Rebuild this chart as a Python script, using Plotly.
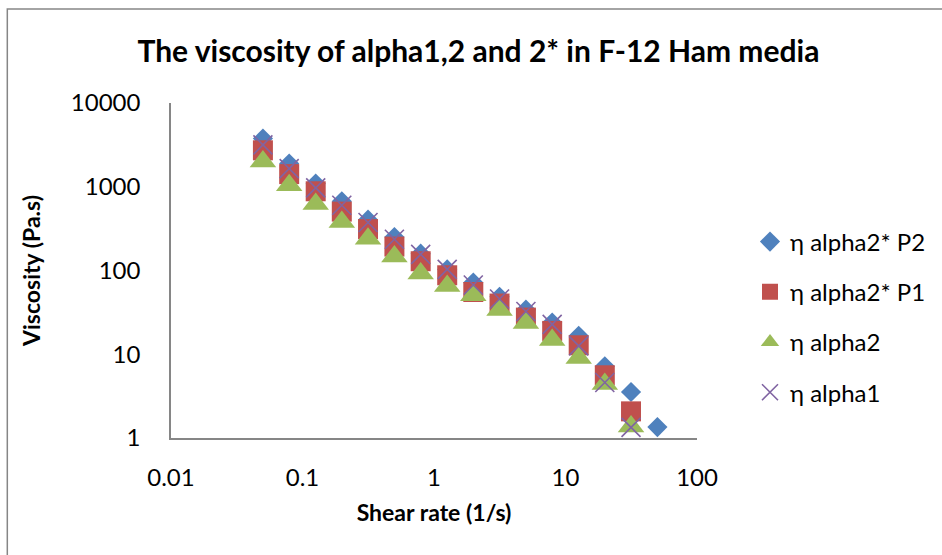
import plotly.graph_objects as go

# ---- data ----
shear_rate = [0.05, 0.0792, 0.126, 0.199, 0.315, 0.5, 0.792, 1.26, 1.99, 3.15,
              5.0, 7.92, 12.6, 19.9, 31.5, 50.0]

visc_alpha2star_p2 = [3758, 1890, 1091, 670, 405, 251, 159, 103, 71.7, 48.5,
                      34.1, 23.9, 16.6, 7.18, 3.54, 1.35]
visc_alpha2star_p1 = [2723, 1416, 883, 505, 312, 193, 129, 87.7, 55.4, 40.3,
                      27.4, 19.0, 12.8, 5.61, 2.08]
visc_alpha2 = [1996, 1041, 622, 380, 240, 147, 91.8, 65.3, 50.6, 33.7,
               23.6, 14.8, 9.02, 4.41, 1.37]
visc_alpha1 = [3160, 1648, 971, 601, 374, 236, 156, 103, 67.1, 45.7,
               32.4, 22.7, 12.6, 4.60, 1.34]

series_names = ["η alpha2* P2", "η alpha2* P1", "η alpha2", "η alpha1"]

x_tickvals = [0.01, 0.1, 1, 10, 100]
x_ticktext = ["0.01", "0.1", "1", "10", "100"]
y_tickvals = [1, 10, 100, 1000, 10000]
y_ticktext = ["1", "10", "100", "1000", "10000"]

title_text = "The viscosity of alpha1,2 and 2* in F-12 Ham media"
x_title = "Shear rate (1/s)"
y_title = "Viscosity (Pa.s)"

# ---- layout geometry ----
W, H = 942, 555
L, R, T, B = 171, 244, 103, 117
pw, ph = W - L - R, H - T - B

def px_to_paper_x(px):
    return (px - L) / pw

def py_to_paper_y(py):
    return (H - B - py) / ph

FONT = "Lato, Carlito, Calibri, sans-serif"
AXIS_COLOR = "#868686"

fig = go.Figure()

fig.add_trace(go.Scatter(
    x=shear_rate[:len(visc_alpha2star_p2)], y=visc_alpha2star_p2, mode="markers",
    name=series_names[0], legendgroup="a",
    marker=dict(symbol="diamond", size=15.5, color="#4F81BD", line=dict(width=0))))
fig.add_trace(go.Scatter(
    x=shear_rate[:len(visc_alpha2star_p1)], y=visc_alpha2star_p1, mode="markers",
    name=series_names[1], legendgroup="b",
    marker=dict(symbol="square", size=20, color="#C0504D", line=dict(width=0))))
fig.add_trace(go.Scatter(
    x=shear_rate[:len(visc_alpha2)], y=visc_alpha2, mode="markers",
    name=series_names[2], legendgroup="c",
    marker=dict(symbol="triangle-up", size=23, color="#9BBB59", line=dict(width=0))))
fig.add_trace(go.Scatter(
    x=shear_rate[:len(visc_alpha1)], y=visc_alpha1, mode="markers",
    name=series_names[3], legendgroup="d",
    marker=dict(symbol="x-thin", size=19, color="#8064A2",
                line=dict(width=1.6, color="#8064A2"))))

fig.update_layout(
    width=W, height=H,
    margin=dict(l=L, r=R, t=T, b=B, pad=0),
    paper_bgcolor="white", plot_bgcolor="white",
    font=dict(family=FONT, size=22, color="black"),
    showlegend=True,
    legend=dict(
        x=px_to_paper_x(750), xanchor="left",
        y=py_to_paper_y(317), yanchor="middle",
        traceorder="grouped", tracegroupgap=16,
        font=dict(family=FONT, size=24, color="black"),
        bgcolor="rgba(0,0,0,0)", borderwidth=0,
    ),
    xaxis=dict(
        type="log", range=[-2, 2],
        tickvals=x_tickvals, ticktext=x_ticktext,
        showgrid=False, zeroline=False,
        showline=True, linecolor=AXIS_COLOR, linewidth=1.5,
        ticks="", ticklabelstandoff=17,
        tickfont=dict(family=FONT, size=24, color="black"),
        title=dict(text="<b>" + x_title + "</b>", standoff=15,
                   font=dict(family=FONT, size=23, color="black")),
    ),
    yaxis=dict(
        type="log", range=[0, 4],
        tickvals=y_tickvals, ticktext=y_ticktext,
        showgrid=False, zeroline=False,
        showline=True, linecolor=AXIS_COLOR, linewidth=1.5,
        ticks="", ticklabelstandoff=24,
        tickfont=dict(family=FONT, size=24, color="black"),
        title=dict(text="<b>" + y_title + "</b>", standoff=24,
                   font=dict(family=FONT, size=23, color="black")),
    ),
    title=dict(text="<b>" + title_text + "</b>",
               x=px_to_paper_x(479), xref="paper", xanchor="center",
               y=(H - 51) / H, yref="container", yanchor="middle",
               font=dict(family=FONT, size=30, color="black")),
)

# chart-area border (extends beyond the cropped picture on the right and bottom)
fig.add_shape(type="rect", xref="paper", yref="paper",
              x0=px_to_paper_x(7), x1=px_to_paper_x(W + 20),
              y0=py_to_paper_y(H + 20), y1=py_to_paper_y(9),
              line=dict(color=AXIS_COLOR, width=1.5), fillcolor="rgba(0,0,0,0)",
              layer="below")

fig.write_html("out.html")
